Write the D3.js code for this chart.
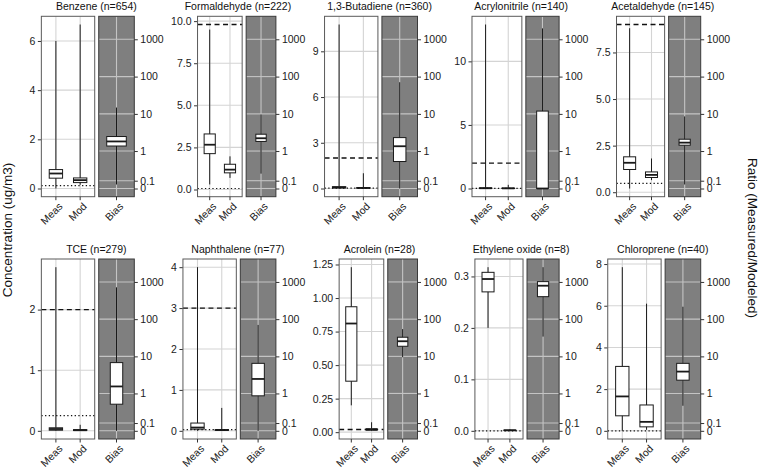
<!DOCTYPE html>
<html>
<head>
<meta charset="utf-8">
<script src="https://cdn.jsdelivr.net/npm/d3@7"></script>
<style>
  body { margin: 0; background: #fff; }
  text { font-family: "Liberation Sans", Arial, Helvetica, sans-serif; }
</style>
</head>
<body>
<div id="display"></div>
<script>
// panel titles
var pollutants = ["Benzene (n=654)", "Formaldehyde (n=222)", "1,3-Butadiene (n=360)", "Acrylonitrile (n=140)", "Acetaldehyde (n=145)",
                  "TCE (n=279)", "Naphthalene (n=77)", "Acrolein (n=28)", "Ethylene oxide (n=8)", "Chloroprene (n=40)"];

// box stats: [min, q1, median, q3, max] in ug/m3
var measStats = [[0.0, 0.42, 0.61, 0.77, 6.0], [0.3, 2.13, 2.66, 3.3, 9.5], [0.01, 0.04, 0.07, 0.12, 10.76],
                 [0.0, 0.0, 0.02, 0.05, 12.9], [0.2, 1.22, 1.58, 1.9, 8.8], [0.0, 0.01, 0.03, 0.05, 2.7],
                 [0.0, 0.04, 0.08, 0.19, 4.0], [0.2, 0.38, 0.81, 0.935, 1.23], [0.2, 0.27, 0.295, 0.308, 0.318],
                 [0.0, 0.72, 1.65, 3.09, 7.85]];
var modStats = [[0.15, 0.24, 0.34, 0.43, 6.67], [0.69, 0.99, 1.18, 1.5, 1.97], [0.0, 0.02, 0.04, 0.06, 1.0],
                [0.0, 0.0, 0.01, 0.03, 0.29], [0.65, 0.79, 0.93, 1.09, 1.81], [0.0, 0.005, 0.01, 0.02, 0.1],
                [0.0, 0.01, 0.02, 0.03, 0.56], [0.01, 0.015, 0.02, 0.025, 0.074], [0.0, 0.0005, 0.001, 0.0015, 0.003],
                [0.05, 0.19, 0.43, 1.24, 6.1]];
// measured / modeled ratio
var biasStats = [[0.05, 1.37, 1.82, 2.47, 14.8], [0.21, 1.82, 2.22, 2.85, 9.66], [0.0, 0.51, 1.35, 2.31, 70.6],
                 [0.0, 0.0, 0.0, 11.9, 1960], [0.05, 1.44, 1.69, 2.09, 8.56], [0.0, 0.5, 1.55, 6.8, 717],
                 [0.0, 0.86, 2.47, 6.5, 70], [9.5, 18.7, 25.5, 32.7, 54], [34, 402, 792, 1020, 2492],
                 [0.45, 2.29, 3.9, 6.5, 216]];

// reference lines (dashed = benchmark, dotted = detection limit)
var dashedLevels = [null, 9.8, 2.0, 2.0, 9.0, 2.0, 3.0, 0.02, null, null];
var dottedLevels = [0.12, 0.06, 0.02, 0.01, 0.48, 0.25, 0.03, null, 0.0, 0.0];

// tick labels
var yTickLabels = [["0", "2", "4", "6"], ["0.0", "2.5", "5.0", "7.5", "10.0"], ["0", "3", "6", "9"], ["0", "5", "10"],
                   ["0.0", "2.5", "5.0", "7.5"], ["0", "1", "2"], ["0", "1", "2", "3", "4"],
                   ["0.00", "0.25", "0.50", "0.75", "1.00", "1.25"], ["0.0", "0.1", "0.2", "0.3"], ["0", "2", "4", "6", "8"]];
var biasTickLabels = ["0", "0.1", "1", "10", "100", "1000"];
var groups = ["Meas", "Mod"];
var biasGroup = ["Bias"];

// layout
var width = 760, height = 469;
var rowTop = [16.3, 259], rowBottom = [196.7, 439];
var colStep = 141.6, cellLeft0 = 29, grayRight0 = 134.3;
var fs = 10.5, tickLen = 3.5;

var svg = d3.select("#display").append("svg")
    .attr("width", width).attr("height", height);

// pseudo-log (asinh) transform for ratio axis
var pl = function(v) { return Math.asinh(v / 0.2); };
var bMax = pl(d3.max(d3.merge(biasStats))), bPad = 0.05 * bMax;

function drawBox(g, s, cx, bw, y) {
  g.append("line").attr("x1", cx).attr("x2", cx).attr("y1", y(s[0])).attr("y2", y(s[4]))
    .attr("stroke", "#1a1a1a").attr("stroke-width", 1);
  g.append("rect").attr("x", cx - bw / 2).attr("width", bw)
    .attr("y", y(s[3])).attr("height", Math.max(0.01, y(s[1]) - y(s[3])))
    .attr("fill", "#fff").attr("stroke", "#1a1a1a").attr("stroke-width", 1);
  g.append("line").attr("x1", cx - bw / 2).attr("x2", cx + bw / 2).attr("y1", y(s[2])).attr("y2", y(s[2]))
    .attr("stroke", "#1a1a1a").attr("stroke-width", 1.8);
}

function xLabels(g, xs, names, bottom) {
  names.forEach(function(n) {
    var x = xs(n);
    g.append("line").attr("x1", x).attr("x2", x).attr("y1", bottom).attr("y2", bottom + tickLen)
      .attr("stroke", "#333");
    g.append("text").attr("transform", "translate(" + (x + 2) + "," + (bottom + 5) + ") rotate(-45)")
      .attr("text-anchor", "end").attr("dy", "0.72em").attr("font-size", fs).attr("fill", "#1a1a1a").text(n);
  });
}

pollutants.forEach(function(name, i) {
  var r = Math.floor(i / 5), c = i % 5;
  var top = rowTop[r], bottom = rowBottom[r];
  var cellLeft = cellLeft0 + c * colStep, grayRight = grayRight0 + c * colStep;

  var vals = measStats[i].concat(modStats[i]);
  if (dashedLevels[i] != null) vals.push(dashedLevels[i]);
  if (dottedLevels[i] != null) vals.push(dottedLevels[i]);
  var ext = d3.extent(vals), pad = 0.05 * (ext[1] - ext[0]);
  var y = d3.scaleLinear().domain([ext[0] - pad, ext[1] + pad]).range([bottom, top]);
  var ticks = yTickLabels[i].map(Number);

  var yb0 = d3.scaleLinear().domain([-bPad, bMax + bPad]).range([bottom, top]);
  var yb = function(v) { return yb0(pl(v)); };
  var bTicks = biasTickLabels.map(Number);

  var g = svg.append("g");

  // left axis, measure labels to place white panel
  var yAxisG = g.append("g")
    .call(d3.axisLeft(y).tickValues(ticks).tickFormat(function(d, j) { return yTickLabels[i][j]; })
      .tickSize(tickLen).tickPadding(2.5));
  yAxisG.attr("font-family", null).attr("font-size", fs);
  yAxisG.select(".domain").remove();
  yAxisG.selectAll("line").attr("stroke", "#333");
  yAxisG.selectAll("text").attr("fill", "#1a1a1a");
  var labW = d3.max(yAxisG.selectAll("text").nodes(), function(n) { return n.getComputedTextLength(); });
  var whiteLeft = cellLeft + labW + tickLen + 3;
  yAxisG.attr("transform", "translate(" + whiteLeft + ",0)");

  var P = grayRight - whiteLeft - 4;
  var whiteW = 0.6 * P, grayW = 0.4 * P;
  var grayLeft = whiteLeft + whiteW + 4;

  var xw = d3.scalePoint().domain(groups).range([whiteLeft, whiteLeft + whiteW]).padding(0.6);
  var xg = d3.scalePoint().domain(biasGroup).range([grayLeft, grayRight]).padding(0.6);

  // white panel
  g.append("rect").attr("x", whiteLeft).attr("y", top).attr("width", whiteW).attr("height", bottom - top)
    .attr("fill", "#fff");
  g.selectAll(null).data(ticks).enter().append("line")
    .attr("x1", whiteLeft).attr("x2", whiteLeft + whiteW).attr("y1", function(d) { return y(d); }).attr("y2", function(d) { return y(d); })
    .attr("stroke", "#d4d4d4").attr("stroke-width", 1.1);
  g.selectAll(null).data(groups).enter().append("line")
    .attr("x1", function(d) { return xw(d); }).attr("x2", function(d) { return xw(d); }).attr("y1", top).attr("y2", bottom)
    .attr("stroke", "#d4d4d4").attr("stroke-width", 1.1);

  var bw = 0.25 * whiteW;
  drawBox(g, measStats[i], xw("Meas"), bw, y);
  drawBox(g, modStats[i], xw("Mod"), bw, y);

  if (dashedLevels[i] != null)
    g.append("line").attr("x1", whiteLeft).attr("x2", whiteLeft + whiteW)
      .attr("y1", y(dashedLevels[i])).attr("y2", y(dashedLevels[i]))
      .attr("stroke", "#111").attr("stroke-width", 1.3).attr("stroke-dasharray", "5,3.5");
  if (dottedLevels[i] != null)
    g.append("line").attr("x1", whiteLeft).attr("x2", whiteLeft + whiteW)
      .attr("y1", y(dottedLevels[i])).attr("y2", y(dottedLevels[i]))
      .attr("stroke", "#111").attr("stroke-width", 1.2).attr("stroke-dasharray", "1.3,2.4");

  g.append("rect").attr("x", whiteLeft).attr("y", top).attr("width", whiteW).attr("height", bottom - top)
    .attr("fill", "none").attr("stroke", "#5a5a5a").attr("stroke-width", 1);

  // grey bias panel
  g.append("rect").attr("x", grayLeft).attr("y", top).attr("width", grayW).attr("height", bottom - top)
    .attr("fill", "#7f7f7f");
  g.selectAll(null).data(bTicks).enter().append("line")
    .attr("x1", grayLeft).attr("x2", grayRight).attr("y1", function(d) { return yb(d); }).attr("y2", function(d) { return yb(d); })
    .attr("stroke", "#c4c4c4").attr("stroke-width", 1.1);
  g.append("line").attr("x1", xg("Bias")).attr("x2", xg("Bias")).attr("y1", top).attr("y2", bottom)
    .attr("stroke", "#c4c4c4").attr("stroke-width", 1.1);
  var bbw = (i === 0 ? 0.55 : 0.35) * grayW;
  drawBox(g, biasStats[i], xg("Bias"), bbw, yb);
  g.append("rect").attr("x", grayLeft).attr("y", top).attr("width", grayW).attr("height", bottom - top)
    .attr("fill", "none").attr("stroke", "#3a3a3a").attr("stroke-width", 1);

  // right axis
  var rAxisG = g.append("g").attr("transform", "translate(" + grayRight + ",0)")
    .call(d3.axisRight(yb0).tickValues(bTicks.map(pl))
      .tickFormat(function(d, j) { return biasTickLabels[j]; }).tickSize(tickLen).tickPadding(2.5));
  rAxisG.attr("font-family", null).attr("font-size", fs);
  rAxisG.select(".domain").remove();
  rAxisG.selectAll("line").attr("stroke", "#333");
  rAxisG.selectAll("text").attr("fill", "#1a1a1a");
  var rW = d3.max(rAxisG.selectAll("text").nodes(), function(n) { return n.getComputedTextLength(); });

  xLabels(g, xw, groups, bottom);
  xLabels(g, xg, biasGroup, bottom);

  // title centred on the whole cell
  g.append("text").attr("x", (cellLeft + grayRight + tickLen + 2.5 + rW) / 2).attr("y", top - 6.5)
    .attr("text-anchor", "middle").attr("font-size", fs).attr("fill", "#111").text(name);
});

svg.append("text").attr("transform", "translate(12,230) rotate(-90)")
  .attr("text-anchor", "middle").attr("font-size", 13.5).attr("fill", "#111").text("Concentration (ug/m3)");
svg.append("text").attr("transform", "translate(748,238) rotate(90)")
  .attr("text-anchor", "middle").attr("font-size", 13.5).attr("fill", "#111").text("Ratio (Measured/Modeled)");
</script>
</body>
</html>
